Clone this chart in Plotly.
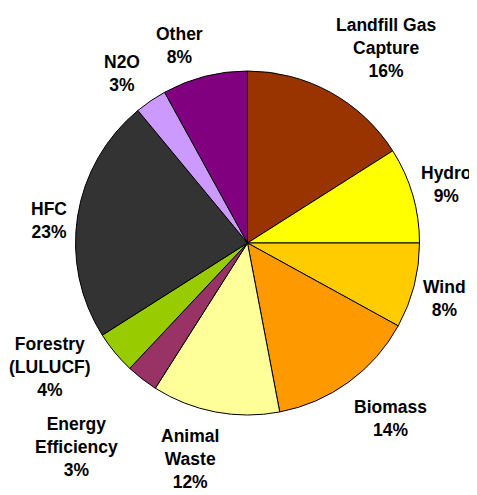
import plotly.graph_objects as go

# Data
categories = ["Landfill Gas<br>Capture", "Hydro", "Wind", "Biomass", "Animal<br>Waste",
              "Energy<br>Efficiency", "Forestry<br>(LULUCF)", "HFC", "N2O", "Other"]
shares = [16, 9, 8, 14, 12, 3, 4, 23, 3, 8]
colors = ["#993300", "#FFFF00", "#FFCC00", "#FF9900", "#FFFF99",
          "#993366", "#99CC00", "#333333", "#CC99FF", "#800080"]

# Label placement (pixel centres of each label block, in window pixels)
label_px = [(386, 48), (446, 184.5), (444, 298), (390, 418.5), (190, 459),
            (76, 447), (50, 367), (49, 220), (122, 73.5), (179, 45.5)]

OFF = 8  # page body margin
W, H = 477 - OFF, 495 - OFF


def fx(px):
    return (px - OFF) / W


def fy(py):
    return 1 - (py - OFF) / H


fig = go.Figure(go.Pie(
    labels=[c.replace("<br>", " ") for c in categories],
    values=shares,
    marker=dict(colors=colors, line=dict(color="#000000", width=1)),
    sort=False,
    direction="clockwise",
    rotation=0,
    textinfo="none",
    hole=0,
    domain=dict(x=[fx(75), fx(420)], y=[fy(415), fy(71)]),
    showlegend=False,
))

total = sum(shares)
for cat, val, (px, py) in zip(categories, shares, label_px):
    fig.add_annotation(
        x=fx(px), y=fy(py), xref="paper", yref="paper",
        xanchor="center", yanchor="middle",
        text=f"<b>{cat}<br>{round(100 * val / total)}%</b>",
        showarrow=False, align="center",
        font=dict(family="Arial, Liberation Sans, sans-serif", size=17.5, color="#000000"),
    )

fig.update_layout(
    width=W, height=H,
    margin=dict(l=0, r=0, t=0, b=0),
    paper_bgcolor="#FFFFFF",
    plot_bgcolor="#FFFFFF",
)

fig.write_html("out.html")
